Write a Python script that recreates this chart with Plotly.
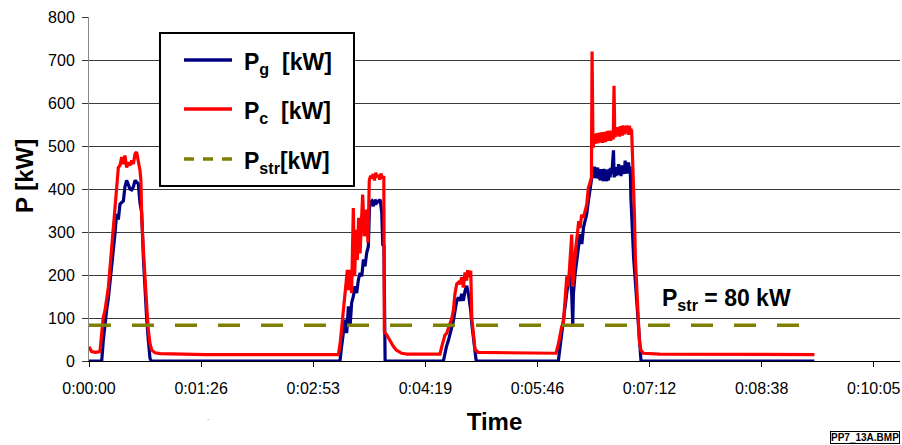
import plotly.graph_objects as go

# ---------------- data (time in seconds, power in kW) ----------------
pc_t = [0, 1, 2, 5, 8.5, 9.2, 10.3, 11, 12.3, 13.6, 14.9, 16.2, 17.5, 18.8, 20, 21.3, 22.6,
        23.9, 25.2, 26.5, 27.7, 29, 30.3, 31.6, 32.9, 34.2, 35.5, 36.7, 38, 39.3, 40, 40.6,
        41.9, 43.2, 44.5, 45.7, 47, 48.3, 50.9, 55, 65, 90, 150, 192.2,
        193.5, 194.7, 196, 197.3, 199.1, 200, 201.2, 202.4, 203.7, 204.7, 205.8, 206.8, 207.8,
        208.9, 210.9, 212.2, 214, 215, 216, 217, 218, 219, 220, 221, 222, 223, 224, 225, 226,
        227.2, 227.6, 229.4, 232, 234.5, 237, 241, 245, 270.5,
        271.8, 273, 274.3, 275.6, 276.9, 278.2, 279.5, 280.8, 282, 283.4, 284.7, 285.9, 287.2,
        288.5, 289.8, 291, 291.8, 293, 294.2, 295, 296.2, 297.5, 300, 320, 359.9,
        361.7, 363, 364.3, 365.6, 366.9, 368.2, 369.4, 370.7, 372, 372.8, 373.8, 375.1, 376.3,
        377.4, 378.4, 379.7, 381, 382.3, 383.6, 384.8, 386.1, 387.2, 387.7, 388.4, 389, 389.5,
        390, 390.5, 391, 391.5, 392, 392.5, 393, 393.5, 394, 394.5, 395, 395.5, 396, 396.5, 397,
        397.5, 398, 398.5, 399, 399.5, 400, 400.5, 401, 401.5, 402, 402.5, 403, 403.5, 404,
        404.6, 405.2, 405.7, 406, 406.5, 407, 407.5, 408, 408.5, 409, 409.5, 410, 410.5, 411,
        411.5, 412, 412.5, 413, 413.5, 414, 414.5, 415, 415.5, 416, 416.5, 417, 417.5, 418.2,
        418.8, 419.5, 420.3, 421.1, 422.1, 423.1, 424.1, 425.2, 427.2, 440, 500, 559]
pc_v = [33, 28, 22, 20, 22, 47, 78, 101, 117, 140, 171, 217, 264, 311, 357, 404, 450,
        455, 474, 458, 478, 450, 462, 455, 466, 458, 482, 486, 466, 443, 420, 336,
        259, 182, 127, 72, 41, 26, 19, 17, 16, 15, 15, 15,
        40, 80, 120, 158, 212, 165, 212, 158, 356, 197, 305, 235, 333,
        250, 387, 290, 352, 275, 420, 431, 425, 435, 420, 438, 428, 432, 422, 436, 425,
        430, 68, 61, 46, 34, 25, 18, 16, 16,
        33, 48, 60, 64, 75, 86, 98, 117, 156, 179, 183, 179, 195,
        171, 206, 187, 211, 195, 210, 100, 54, 27, 20, 19, 18,
        39, 56, 80, 88, 150, 197, 173, 243, 294, 173, 224, 263, 294,
        325, 309, 340, 333, 348, 364, 402, 418, 426, 720, 496, 510, 528,
        505, 524, 512, 530, 506, 522, 515, 531, 508, 520, 512, 532, 507, 526, 514,
        533, 509, 527, 516, 535, 512, 528, 518, 536, 512, 530, 520, 534, 515,
        640, 520, 538, 522, 540, 525, 544, 528, 540, 522, 546, 530, 543, 524,
        548, 532, 545, 527, 546, 530, 548, 533, 544, 526, 547, 535, 540, 535,
        483, 437, 344, 235, 158, 111, 49, 26, 18, 16, 15, 15]

pg_t = [0, 9.8, 11, 12.3, 13.6, 14.9, 16.2, 17.5, 18.8, 20, 21.3, 22.6, 23.9, 25.2, 26.5,
        27.7, 29, 30.3, 31.6, 32.9, 34.2, 35.5, 36.7, 38, 39.3, 40.6, 41.9, 43.2, 44.5, 45.7,
        47, 48, 193.4,
        194.7, 196, 197.3, 198.6, 199.9, 201.2, 202.4, 203.7, 205, 206.3, 207.6, 208.9, 210.2,
        211.5, 212.7, 214, 215.3, 216.1, 216.6, 217.9, 219.2, 220.5, 221.8, 223.1, 224.4,
        225.6, 226.4, 227.3, 227.6, 228.2, 273.1,
        274.4, 275.6, 276.9, 278.2, 279.5, 280.8, 282.1, 283.4, 284.7, 286, 287.2, 288.5,
        289.8, 291.1, 292.4, 293.2, 294.2, 295, 296.3, 297.6, 298.4, 361.7,
        363, 364.3, 365.6, 366.9, 368.2, 369.4, 370.7, 372, 372.8, 373.3, 374.6, 375.9, 377.2,
        378.5, 379.8, 381.1, 382.3, 383.6, 384.9, 386.2, 387.5, 388.8, 389.4, 390, 390.6,
        391.3, 392, 392.6, 393.2, 393.9, 394.5, 395.2, 395.8, 396.4, 397, 397.7, 398.3, 399,
        399.6, 400.3, 400.9, 401.6, 402.2, 402.9, 404.2, 404.7, 405.5, 406.1, 406.8, 407.4,
        408.1, 408.7, 409.4, 410, 410.6, 411.2, 411.9, 412.5, 413.2, 413.8, 414.5, 415.1,
        415.8, 416.4, 417.1, 417.6, 418.4, 419.7, 421, 422.3, 423.6, 424.8, 425.4, 559]
pg_v = [0, 0, 47, 93, 119, 145, 183, 220, 249, 295, 342, 329, 365, 370, 372,
        405, 420, 410, 400, 398, 405, 420, 415, 412, 368, 345, 240, 158, 96, 49,
        6, 0, 0,
        34, 65, 96, 65, 127, 80, 135, 150, 174, 158, 189, 205, 197,
        236, 220, 251, 267, 352, 368, 372, 360, 375, 368, 372, 375,
        345, 270, 268, 61, 0, 0,
        23, 35, 47, 62, 74, 93, 117, 140, 148, 140, 156, 140,
        163, 175, 156, 140, 117, 86, 47, 8, 0, 0,
        31, 62, 86, 124, 156, 187, 202, 156, 85, 156, 202, 233, 264,
        295, 272, 311, 326, 342, 373, 404, 427, 435, 452, 425, 444,
        427, 450, 424, 443, 420, 446, 425, 440, 418, 447, 423, 442, 418,
        445, 420, 447, 427, 449, 435, 490, 427, 448, 430, 451, 432,
        458, 436, 452, 430, 455, 438, 450, 435, 466, 440, 458, 436,
        462, 438, 452, 381, 319, 241, 187, 132, 70, 8, 0, 0]

pstr_t = [0, 559]
pstr_v = [83, 83]

tick_vals = [0, 86.4, 172.8, 259.2, 345.6, 432, 518.4, 604.8]
tick_text = ["0:00:00", "0:01:26", "0:02:53", "0:04:19", "0:05:46", "0:07:12", "0:08:38", "0:10:05"]

# ---------------- figure ----------------
FONT = "Arial, 'Liberation Sans', sans-serif"
W, H = 902, 445
L, R, T, B = 89, 2, 17, 84
PW, PH = W - L - R, H - T - B   # 811 x 344


def px(x):   # image pixel -> paper fraction
    return (x - L) / PW


def py(y):
    return (H - B - y) / PH


fig = go.Figure()
fig.add_trace(go.Scatter(x=pg_t, y=pg_v, mode="lines", name="Pg [kW]",
                         line=dict(color="#000080", width=3.2)))
fig.add_trace(go.Scatter(x=pc_t, y=pc_v, mode="lines", name="Pc [kW]",
                         line=dict(color="#FF0000", width=3.2)))
fig.add_trace(go.Scatter(x=pstr_t, y=pstr_v, mode="lines", name="Pstr [kW]",
                         line=dict(color="#808000", width=3.5, dash="22px,21px")))

shapes = [
    dict(type="rect", xref="paper", yref="paper", x0=px(160), x1=px(354), y0=py(186), y1=py(33),
         fillcolor="white", line=dict(color="black", width=2), layer="above"),
]
legend_items = [("#000080", "solid", "<b>P<sub>g</sub>\u00a0\u00a0[kW]</b>", 60),
                ("#FF0000", "solid", "<b>P<sub>c</sub>\u00a0\u00a0[kW]</b>", 109),
                ("#808000", "10px,9px", "<b>P<sub>str</sub>[kW]</b>", 159)]
annotations = []
for col, dash, txt, yy in legend_items:
    shapes.append(dict(type="line", xref="paper", yref="paper", x0=px(184), x1=px(232),
                       y0=py(yy), y1=py(yy), line=dict(color=col, width=3.5, dash=dash),
                       layer="above"))
    annotations.append(dict(xref="paper", yref="paper", x=px(242), y=py(yy + 3), text=txt,
                            showarrow=False, xanchor="left", yanchor="middle",
                            font=dict(family=FONT, size=23, color="black")))

annotations += [
    dict(xref="paper", yref="paper", x=px(726), y=py(299),
         text="<b>P<sub>str</sub> = 80 kW</b>", showarrow=False,
         xanchor="center", yanchor="middle", font=dict(family=FONT, size=23, color="black")),
    dict(xref="paper", yref="paper", x=px(24), y=py(176), text="<b>P [kW]</b>",
         textangle=-90, showarrow=False, xanchor="center", yanchor="middle",
         font=dict(family=FONT, size=24, color="black")),
    dict(xref="paper", yref="paper", x=px(900), y=py(437.5), text="<b>PP7_13A.BMP</b>",
         showarrow=False, xanchor="right", yanchor="middle", bgcolor="white",
         bordercolor="black", borderwidth=1, borderpad=0,
         font=dict(family=FONT, size=10, color="black")),
    dict(xref="paper", yref="paper", x=px(205), y=py(424), text=".", showarrow=False,
         font=dict(family=FONT, size=8, color="#666")),
]

fig.update_layout(
    width=W, height=H,
    margin=dict(l=L, r=R, t=T, b=B, autoexpand=False),
    paper_bgcolor="white", plot_bgcolor="white",
    showlegend=False,
    font=dict(family=FONT, size=16, color="black"),
    shapes=shapes, annotations=annotations,
    xaxis=dict(range=[0, 625], tickmode="array", tickvals=tick_vals, ticktext=tick_text,
               showgrid=False, zeroline=False, showline=True, linecolor="black", linewidth=1,
               ticks="outside", ticklen=5, tickcolor="black", tickfont=dict(size=16),
               ticklabelstandoff=8,
               title=dict(text="<b>Time</b>", font=dict(size=24), standoff=16)),
    yaxis=dict(range=[0, 800], dtick=100, tick0=0, showgrid=True, gridcolor="#3a3a3a",
               gridwidth=1, zeroline=False, showline=True, linecolor="#888", linewidth=1,
               ticks="outside", ticklen=6, tickcolor="#3a3a3a", tickfont=dict(size=16),
               ticklabelstandoff=4),
)

fig.write_html(
    "out.html",
    config={"displayModeBar": False},
    post_script="document.body.style.margin='0';document.body.style.overflow='hidden';",
)
